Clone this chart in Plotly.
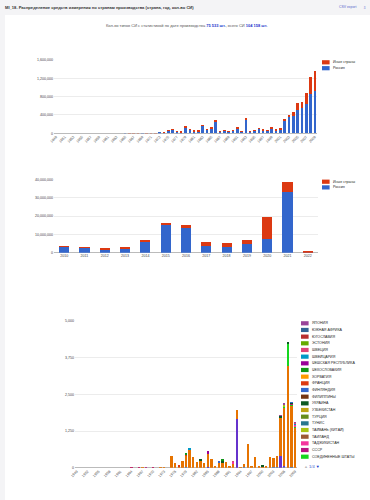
import plotly.graph_objects as go

W, H = 370, 500
FONT = "Liberation Sans, Arial, sans-serif"

# ---------------- data ----------------
years1 = list(range(1949, 2010))
russia1 = [0, 0, 0, 0, 0, 0, 0, 0, 0, 0, 0, 0, 0, 0, 0, 0,
           6000, 0, 0, 0, 5000, 0, 0, 0, 8000, 10000,
           55000, 80000, 40000, 8000, 130000, 80000, 40000, 50000, 165000, 80000,
           110000, 255000, 40000, 55000, 30000, 55000, 110000, 45000, 310000, 40000,
           55000, 95000, 70000, 55000, 115000, 70000, 75000, 285000, 355000, 380000,
           500000, 555000, 630000, 860000, 925000]
other1 = [0, 0, 0, 0, 0, 0, 0, 0, 0, 0, 0, 0, 0, 0, 0, 0,
          0, 4000, 5000, 3000, 0, 4000, 3000, 4000, 0, 2000,
          5000, 7000, 4000, 42000, 15000, 8000, 22000, 23000, 15000, 12000,
          20000, 15000, 10000, 10000, 10000, 15000, 20000, 5000, 8000, 5000,
          10000, 20000, 20000, 12000, 15000, 20000, 25000, 25000, 45000, 90000,
          170000, 125000, 240000, 375000, 440000]

years2 = list(range(2010, 2023))
russia2 = [3.0e6, 2.4e6, 1.8e6, 2.0e6, 6.0e6, 15.1e6, 13.6e6, 3.6e6, 2.9e6, 4.5e6, 7.5e6, 33.1e6, 0.2e6]
other2 = [0.45e6, 0.5e6, 0.4e6, 0.5e6, 0.4e6, 0.5e6, 1.3e6, 2.4e6, 2.4e6, 2.4e6, 12.0e6, 5.4e6, 0.7e6]

series_names = ["Россия", "Иные страны"]
series_colors = ["#3366cc", "#dc3912"]

# chart 3: country -> {year: count}
germany3 = {1979: 20, 1985: 20, 1995: 10, 2003: 15, 2004: 20, 2006: 30, 2008: 30}
korea3 = {1985: 15, 1993: 1650, 2005: 390, 2006: 30}
russia3 = {1964: 10, 1966: 8, 1967: 10, 1970: 12, 1972: 8, 1973: 6,
           1975: 400, 1976: 170, 1977: 50, 1978: 220, 1979: 380, 1980: 620,
           1981: 350, 1982: 180, 1983: 240, 1984: 160, 1985: 440, 1986: 290,
           1987: 70, 1988: 190, 1989: 170, 1990: 190, 1991: 55, 1992: 120,
           1993: 330, 1994: 10, 1995: 115, 1996: 800, 1997: 55, 1998: 360,
           1999: 45, 2000: 40, 2001: 60, 2002: 380, 2003: 320, 2004: 390,
           2005: 1330, 2006: 2000, 2007: 3480, 2008: 2080, 2009: 1380}
usa3 = {1989: 20, 2006: 30, 2007: 760, 2008: 40, 2009: 40}
ussr3 = {1964: 6, 1966: 6, 1968: 5, 1970: 5, 2008: 30}
tajik3 = {1992: 80, 2009: 60}
taiwan3 = {2006: 60}
ukraine3 = {1983: 25, 1989: 60, 2000: 40, 2005: 50, 2007: 40, 2008: 30}
finland3 = {1988: 15, 2008: 20}
france3 = {1977: 25, 1979: 60}
czechoslovakia3 = {1979: 50, 1989: 30}
czech3 = {1985: 80}
swiss3 = {1980: 40, 2009: 20}
sweden3 = {1992: 20, 2009: 30}
japan3 = {2005: 20, 2006: 40, 2009: 20}

stack3 = [  # bottom to top (alphabetical)
    ("ГЕРМАНИЯ", germany3, "#5574a6"),
    ("РЕСПУБЛИКА КОРЕЯ", korea3, "#6633cc"),
    ("РОССИЯ", russia3, "#e67300"),
    ("СОЕДИНЕННЫЕ ШТАТЫ", usa3, "#16d620"),
    ("СССР", ussr3, "#b91383"),
    ("ТАДЖИКИСТАН", tajik3, "#f4359e"),
    ("ТАЙВАНЬ (КИТАЙ)", taiwan3, "#a9c413"),
    ("УКРАИНА", ukraine3, "#0c5922"),
    ("ФИНЛЯНДИЯ", finland3, "#3366cc"),
    ("ФРАНЦИЯ", france3, "#dc3912"),
    ("ЧЕХОСЛОВАКИЯ", czechoslovakia3, "#109618"),
    ("ЧЕШСКАЯ РЕСПУБЛИКА", czech3, "#990099"),
    ("ШВЕЙЦАРИЯ", swiss3, "#0099c6"),
    ("ШВЕЦИЯ", sweden3, "#dd4477"),
    ("ЯПОНИЯ", japan3, "#994499"),
]

legend3_names = ["ЯПОНИЯ", "ЮЖНАЯ АФРИКА", "ЮГОСЛАВИЯ", "ЭСТОНИЯ", "ШВЕЦИЯ", "ШВЕЙЦАРИЯ",
                 "ЧЕШСКАЯ РЕСПУБЛИКА", "ЧЕХОСЛОВАКИЯ", "ХОРВАТИЯ", "ФРАНЦИЯ", "ФИНЛЯНДИЯ",
                 "ФИЛИППИНЫ", "УКРАИНА", "УЗБЕКИСТАН", "ТУРЦИЯ", "ТУНИС", "ТАЙВАНЬ (КИТАЙ)",
                 "ТАИЛАНД", "ТАДЖИКИСТАН", "СССР", "СОЕДИНЕННЫЕ ШТАТЫ"]
legend3_colors = ["#994499", "#316395", "#b82e2e", "#66aa00", "#dd4477", "#0099c6",
                  "#990099", "#109618", "#ff9900", "#dc3912", "#3366cc",
                  "#743411", "#0c5922", "#bea413", "#668d1c", "#2a778d", "#a9c413",
                  "#9c5935", "#f4359e", "#b91383", "#16d620"]

ticks1 = [0, 400000, 800000, 1200000, 1600000]
ticks2 = [0, 10000000, 20000000, 30000000, 40000000]
ticks3 = [0, 1250, 2500, 3750, 5000]

# ---------------- figure ----------------
fig = go.Figure()

def px_x(x):
    return x / W

def px_y(y):
    return 1 - y / H

for name, vals, col in zip(series_names, [russia1, other1], series_colors):
    fig.add_trace(go.Bar(x=years1, y=vals, name=name, marker_color=col, width=0.6,
                         marker_line_width=0, xaxis="x", yaxis="y", showlegend=False))
for name, vals, col in zip(series_names, [russia2, other2], series_colors):
    fig.add_trace(go.Bar(x=years2, y=vals, name=name, marker_color=col, width=0.5,
                         marker_line_width=0, xaxis="x2", yaxis="y2", showlegend=False))
for name, d, col in stack3:
    fig.add_trace(go.Bar(x=years1, y=[d.get(y, 0) for y in years1], name=name,
                         marker_color=col, width=0.65, marker_line_width=0,
                         xaxis="x3", yaxis="y3", showlegend=False))

tickfont = dict(family=FONT, size=3.6, color="#444")
common_y = dict(gridcolor="#ececec", gridwidth=1, zeroline=True, zerolinecolor="#bbbbbb",
                zerolinewidth=1, tickformat=",", tickfont=tickfont, showline=False, ticks="",
                fixedrange=True)
common_x = dict(showgrid=False, zeroline=False, showline=False, ticks="", tickfont=tickfont,
                fixedrange=True)

fig.update_layout(
    template="none",
    width=W, height=H,
    margin=dict(l=0, r=0, t=0, b=0),
    paper_bgcolor="white",
    plot_bgcolor="rgba(0,0,0,0)",
    barmode="stack",
    showlegend=False,
    font=dict(family=FONT, size=4, color="#222"),
    xaxis=dict(domain=[px_x(54), px_x(317)], anchor="y", range=[1948.5, 2009.5],
               tickvals=years1[::2], tickangle=-45, **common_x),
    yaxis=dict(domain=[px_y(133.3), px_y(60)], anchor="x", range=[0, 1600000],
               tickvals=ticks1, **common_y),
    xaxis2=dict(domain=[px_x(54), px_x(318)], anchor="y2", range=[2009.5, 2022.5],
                tickvals=years2, tickangle=0, **common_x),
    yaxis2=dict(domain=[px_y(252.7), px_y(179.3)], anchor="x2", range=[0, 40000000],
                tickvals=ticks2, **common_y),
    xaxis3=dict(domain=[px_x(75), px_x(297)], anchor="y3", range=[1948.5, 2009.5],
                tickvals=years1[::3], tickangle=-45, **common_x),
    yaxis3=dict(domain=[px_y(467.7), px_y(321)], anchor="x3", range=[0, 5000],
                tickvals=ticks3, **common_y),
)

P = dict(xref="paper", yref="paper", showarrow=False)
shapes = [
    dict(type="rect", xref="paper", yref="paper", x0=0, x1=1, y0=px_y(15), y1=1,
         fillcolor="#f4f4f6", line_width=0, layer="below"),
    dict(type="rect", xref="paper", yref="paper", x0=0, x1=px_x(5), y0=0, y1=1,
         fillcolor="#f4f4f6", line_width=0, layer="below"),
]
annotations = [
    dict(text="<b>МI_18. Распределение средств измерения по странам производства (страна, год, кол-во СИ)</b>",
         x=px_x(3), y=px_y(7), xanchor="left", yanchor="middle",
         font=dict(size=4.1, color="#333"), **P),
    dict(text="CSV export", x=px_x(358), y=px_y(7), xanchor="right", yanchor="middle",
         font=dict(size=3.4, color="#5566cc"), **P),
    dict(text="⇩", x=px_x(368), y=px_y(7), xanchor="right", yanchor="middle",
         font=dict(size=4, color="#5566cc"), **P),
    dict(text="Кол-во типов СИ с статистикой по дате производства "
              "<span style='color:#2233cc'><b>75 533 шт.</b></span>, всего СИ "
              "<span style='color:#2233cc'><b>104 158 шт.</b></span>",
         x=px_x(186), y=px_y(25), xanchor="center", yanchor="middle",
         font=dict(size=4, color="#555"), **P),
]

def add_legend(x0, ys, names, colors, sw=7.6, sh=4.2, gap=1.8):
    for y, n, c in zip(ys, names, colors):
        shapes.append(dict(type="rect", xref="paper", yref="paper",
                           x0=px_x(x0), x1=px_x(x0 + sw), y0=px_y(y + sh / 2),
                           y1=px_y(y - sh / 2), fillcolor=c, line_width=0))
        annotations.append(dict(text=n, x=px_x(x0 + sw + gap), y=px_y(y), xanchor="left",
                                yanchor="middle", font=dict(size=3.6, color="#222"), **P))

add_legend(322, [62.3, 68.2], series_names[::-1], series_colors[::-1])
add_legend(322, [181.7, 187.4], series_names[::-1], series_colors[::-1])
add_legend(301, [323.3 + i * 6.67 for i in range(len(legend3_names))],
           legend3_names, legend3_colors)
annotations.append(dict(text="<span style='color:#bbbbbb'>▲</span> 1/4 <span style='color:#1133cc'>▼</span>",
                        x=px_x(302), y=px_y(466), xanchor="left", yanchor="middle",
                        font=dict(size=4, color="#3355cc"), **P))

fig.update_layout(shapes=shapes, annotations=annotations)
fig.write_html("out.html", config={"displayModeBar": False},
               post_script="document.body.style.margin='0';document.body.style.overflow='hidden';")
